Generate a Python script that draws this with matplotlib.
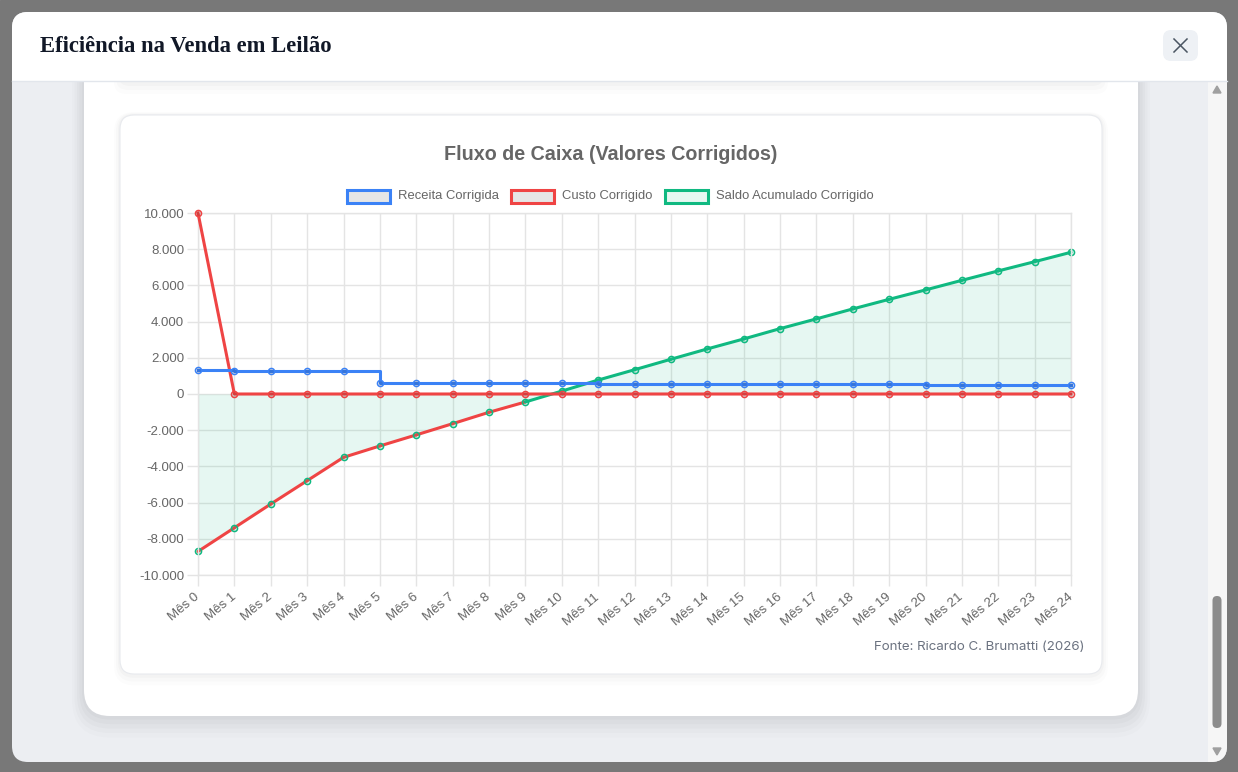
import matplotlib
matplotlib.use("Agg")
import matplotlib.pyplot as plt
from matplotlib.patches import FancyBboxPatch, Rectangle, Polygon
from matplotlib.collections import LineCollection

W, H = 1238, 772

# ── data ──
months = [f"Mês {i}" for i in range(25)]
receita = [1300, 1295, 1290, 1285, 1275, 610, 605, 600, 595, 590, 585, 578, 572,
           566, 560, 554, 548, 542, 536, 530, 522, 514, 506, 498, 490]
custo = [10000] + [0] * 24
saldo = [-8700, -7390, -6080, -4790, -3500, -2870, -2260, -1640, -1010, -440, 160,
         770, 1340, 1920, 2490, 3040, 3610, 4150, 4700, 5230, 5750, 6280, 6800,
         7310, 7830]
yticks = [-10000, -8000, -6000, -4000, -2000, 0, 2000, 4000, 6000, 8000, 10000]
ytick_labels = ["-10.000", "-8.000", "-6.000", "-4.000", "-2.000", "0",
                "2.000", "4.000", "6.000", "8.000", "10.000"]
legend_labels = ["Receita Corrigida", "Custo Corrigido", "Saldo Acumulado Corrigido"]

BLUE = "#3b82f6"
RED = "#ef4444"
GREEN = "#10b981"
TXT = "#666666"
GRID = "#e4e4e4"
GRAY_FILL = (0, 0, 0, 0.1)
GREEN_FILL = (16 / 255, 185 / 255, 129 / 255, 0.1)
SANS = ["Liberation Sans", "DejaVu Sans"]

fig = plt.figure(figsize=(W / 100, H / 100), dpi=100)

# ── page background, drawn in pixel coordinates ──
bg = fig.add_axes([0, 0, 1, 1])
bg.set_xlim(0, W)
bg.set_ylim(H, 0)
bg.axis("off")

def rbox(x, y, w, h, r, **kw):
    p = FancyBboxPatch((x, y), w, h, boxstyle=f"round,pad=0,rounding_size={r}", **kw)
    bg.add_patch(p)
    return p

bg.add_patch(Rectangle((0, 0), W, H, color="#787878", zorder=0))
modal = rbox(12, 12, 1215, 750, 16, facecolor="#eceef2", edgecolor="none", zorder=1)

# inner white panel with soft shadow
for i, a in enumerate([0.012, 0.015, 0.018, 0.02, 0.02]):
    s = 24 - i * 5
    p = rbox(84 - s / 2, 40, 1054 + s, 676 + s * 0.9, 26 + s / 2, facecolor="black",
             edgecolor="none", alpha=a, zorder=1.5)
    p.set_clip_path(modal)
rbox(84, 40, 1054, 676, 26, facecolor="white", edgecolor="none", zorder=2)

# previous card (scrolled away) and the chart card, with shadows
for i, a in enumerate([0.012, 0.015, 0.02]):
    s = 12 - i * 4
    rbox(120 - s / 2, 20, 982 + s, 62 + s, 12, facecolor="black", edgecolor="none",
         alpha=a, zorder=2.2)
    rbox(120 - s / 2, 115 - s / 4, 982 + s, 559 + s * 1.2, 14 + s / 2, facecolor="black",
         edgecolor="none", alpha=a, zorder=2.2)
rbox(120, 20, 982, 61, 12, facecolor="white", edgecolor="#e8eaee", lw=0.8, zorder=2.5)
rbox(120, 115, 982, 559, 14, facecolor="white", edgecolor="#e8eaee", lw=0.8, zorder=2.5)

# header
rbox(12, 12, 1215, 69, 16, facecolor="white", edgecolor="none", zorder=3)
bg.add_patch(Rectangle((12, 50), 1215, 31, facecolor="white", edgecolor="none", zorder=3))
bg.plot([12, 1227], [80.5, 80.5], color="#e2e6ec", lw=1, zorder=3.1)
bg.text(40, 46, "Eficiência na Venda em Leilão", fontsize=16.3, fontweight="bold",
        family=["Liberation Serif", "DejaVu Serif"], color="#111827", va="center",
        ha="left", zorder=4)
rbox(1163, 30, 35, 31, 8, facecolor="#eef1f5", edgecolor="none", zorder=3.5)
bg.plot([1174, 1187], [39, 52], color="#4b5563", lw=1.1, zorder=4)
bg.plot([1187, 1174], [39, 52], color="#4b5563", lw=1.1, zorder=4)

# scrollbar
sb = Rectangle((1208, 81), 19, 681, facecolor="#f6f6f6", edgecolor="none", zorder=3)
bg.add_patch(sb)
sb.set_clip_path(modal)
bg.add_patch(Polygon([(1213, 93), (1221, 93), (1217, 86)], color="#a0a0a0", zorder=4))
bg.add_patch(Polygon([(1213, 748), (1221, 748), (1217, 755)], color="#a0a0a0", zorder=4))
rbox(1212.5, 596, 9, 132, 4.5, facecolor="#8c8c8c", edgecolor="none", zorder=4)

# chart title, legend and source
bg.text(611, 154, "Fluxo de Caixa (Valores Corrigidos)", fontsize=14.2, fontweight="bold",
        family=SANS, color=TXT, ha="center", va="center", zorder=5)
leg_x = [346.5, 510.5, 664.5]
leg_edge = [BLUE, RED, GREEN]
leg_face = ["#e6e6e6", "#e6e6e6", "#e7f8f2"]
for lx, lab, ec, fc in zip(leg_x, legend_labels, leg_edge, leg_face):
    bg.add_patch(Rectangle((lx, 189.5), 43.5, 13.5, facecolor=fc, edgecolor=ec,
                           lw=2.2, zorder=5))
    bg.text(lx + 51, 196, lab, fontsize=9.4, family=SANS, color=TXT, ha="left",
            va="center", zorder=5)
bg.text(1084, 647, "Fonte: Ricardo C. Brumatti (2026)", fontsize=9.6,
        family=["Inter", "DejaVu Sans"], color="#6b7280", ha="right", va="center",
        zorder=5)

# ── chart axes ──
x0, x1, y0, y1 = 198, 1071, 213, 575
ax = fig.add_axes([x0 / W, 1 - y1 / H, (x1 - x0) / W, (y1 - y0) / H])
ax.patch.set_alpha(0)
xs = list(range(len(months)))
ax.set_xlim(0, len(months) - 1)
ax.set_ylim(-10000, 10000)
ax.set_xticks(xs)
ax.set_xticklabels(months, rotation=40, ha="right", va="center",
                   rotation_mode="anchor", family=SANS)
ax.set_yticks(yticks)
ax.set_yticklabels(ytick_labels, family=SANS)
ax.tick_params(length=8, width=1, color=GRID, labelcolor=TXT, labelsize=9.5)
ax.tick_params(axis="y", pad=2)
ax.tick_params(axis="x", pad=7)
ax.grid(color=GRID, lw=1)
ax.set_axisbelow(True)
for sp in ax.spines.values():
    sp.set_color(GRID)
    sp.set_linewidth(1)

# saldo: fill to zero, segments coloured by sign of the end point
ax.fill_between(xs, saldo, 0, color=GREEN, alpha=0.1, lw=0, zorder=1)
segs = [[(xs[i], saldo[i]), (xs[i + 1], saldo[i + 1])] for i in range(len(xs) - 1)]
seg_cols = [RED if saldo[i + 1] < 0 else GREEN for i in range(len(xs) - 1)]
ax.add_collection(LineCollection(segs, colors=seg_cols, linewidths=2.2,
                                 capstyle="round", zorder=2, clip_on=False))
ax.plot(xs, saldo, "o", ms=4.4, mfc=GREEN_FILL, mec=GREEN, mew=1.1, zorder=2.5,
        clip_on=False)

ax.plot(xs, custo, color=RED, lw=2.2, zorder=3, clip_on=False,
        solid_joinstyle="round")
ax.plot(xs, custo, "o", ms=4.4, mfc=GRAY_FILL, mec=RED, mew=1.1, zorder=3.5,
        clip_on=False)

ax.step(xs, receita, where="post", color=BLUE, lw=2.2, zorder=4, clip_on=False)
ax.plot(xs, receita, "o", ms=4.4, mfc=GRAY_FILL, mec=BLUE, mew=1.1, zorder=4.5,
        clip_on=False)

fig.savefig("out.png", dpi=100)
